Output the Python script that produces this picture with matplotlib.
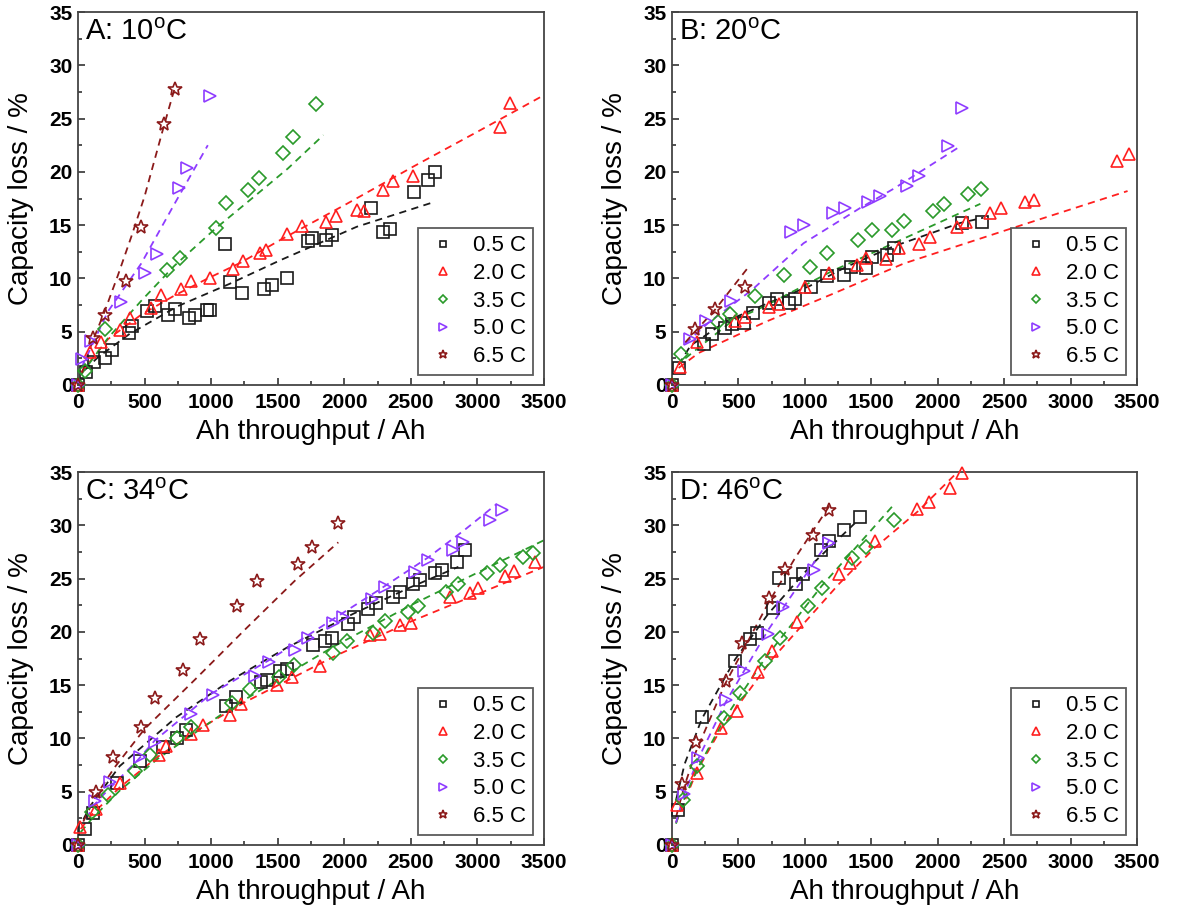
import matplotlib
matplotlib.use("Agg")
import matplotlib.pyplot as plt
from matplotlib.ticker import MultipleLocator

plt.rcParams['font.family'] = ['Liberation Sans', 'DejaVu Sans']
plt.rcParams['mathtext.default'] = 'regular'

rates = ['0.5 C', '2.0 C', '3.5 C', '5.0 C', '6.5 C']
panel_titles = ['A: 10$^{o}$C', 'B: 20$^{o}$C', 'C: 34$^{o}$C', 'D: 46$^{o}$C']

# ---- panel A, 10 C : measured points ----
a05_x = [0, 58, 120, 200, 255, 383, 408, 520, 575, 675, 725, 830, 880, 970, 995, 1105, 1140, 1233, 1400, 1455,
         1570, 1728, 1758, 1861, 1906, 2199, 2294, 2344, 2524, 2632, 2682]
a05_y = [0, 1.25, 2.15, 2.5, 3.25, 4.9, 5.5, 6.9, 7.4, 6.6, 7.1, 6.25, 6.6, 7.0, 7.0, 13.2, 9.65, 8.6, 9.05, 9.4,
         10.05, 13.5, 13.8, 13.6, 14.1, 16.6, 14.4, 14.6, 18.1, 19.2, 20.0]
a20_x = [0, 88, 170, 313, 388, 550, 625, 775, 850, 988, 1163, 1238, 1366, 1411, 1573, 1681, 1863, 1938, 2094,
         2149, 2294, 2369, 2519, 3171, 3246]
a20_y = [0, 3.1, 4.0, 5.2, 6.3, 7.25, 8.4, 9.0, 9.75, 10.0, 10.9, 11.6, 12.4, 12.7, 14.2, 14.9, 15.3, 15.9, 16.4,
         16.3, 18.3, 19.1, 19.6, 24.2, 26.5]
a35_x = [0, 50, 205, 670, 763, 1038, 1113, 1275, 1363, 1538, 1613, 1784]
a35_y = [0, 1.3, 5.3, 10.75, 11.9, 14.75, 17.1, 18.3, 19.4, 21.8, 23.25, 26.4]
a50_x = [0, 30, 100, 325, 505, 595, 758, 820, 988]
a50_y = [0, 2.4, 4.1, 7.8, 10.5, 12.25, 18.5, 20.4, 27.1]
a65_x = [0, 112, 200, 362, 475, 645, 725]
a65_y = [0, 4.4, 6.6, 9.8, 14.8, 24.5, 27.8]

# ---- panel A : model lines ----
a05_fx = [50, 150, 388, 750, 1140, 1518, 2094, 2682]
a05_fy = [1.4, 2.6, 4.8, 7.4, 9.5, 11.7, 14.85, 17.2]
a20_fx = [25, 225, 475, 725, 975, 1225, 1518, 2019, 2519, 3020, 3471]
a20_fy = [1.2, 4.3, 6.6, 8.4, 10.0, 11.5, 13.6, 17.0, 20.5, 23.9, 27.0]
a35_fx = [25, 225, 475, 725, 1025, 1325, 1575, 1843]
a35_fy = [1.0, 4.4, 7.9, 11.2, 14.6, 17.7, 20.3, 23.45]
a50_fx = [25, 225, 475, 725, 975]
a50_fy = [1.6, 6.9, 11.4, 17.0, 22.5]
a65_fx = [0, 100, 200, 300, 400, 500, 645, 725]
a65_fy = [0, 3.8, 6.9, 10.3, 13.9, 17.7, 24.3, 27.8]

# ---- panel B, 20 C : measured points ----
b05_x = [0, 50, 238, 301, 396, 452, 545, 607, 728, 791, 879, 929, 1047, 1168, 1293, 1349, 1457, 1507, 1616,
         1670, 2181, 2337]
b05_y = [0, 1.6, 3.84, 4.78, 5.34, 5.72, 5.78, 6.75, 7.74, 8.06, 7.74, 8.06, 9.15, 10.24, 10.34, 11.09, 11.0,
         12.02, 12.2, 12.9, 15.2, 15.3]
b20_x = [0, 58, 191, 477, 552, 728, 803, 1004, 1180, 1394, 1457, 1613, 1708, 1858, 1942, 2143, 2213, 2393, 2474,
         2655, 2725, 3353, 3441]
b20_y = [0, 1.65, 4.0, 6.03, 6.34, 7.34, 7.59, 9.21, 10.55, 11.27, 11.96, 11.8, 12.9, 13.2, 13.9, 14.8, 15.25,
         16.18, 16.6, 17.2, 17.4, 21.0, 21.7]
b35_x = [0, 70, 346, 440, 628, 841, 1042, 1163, 1402, 1502, 1658, 1745, 1967, 2050, 2231, 2324]
b35_y = [0, 2.9, 5.87, 6.65, 8.37, 10.3, 11.09, 12.4, 13.59, 14.53, 14.5, 15.4, 16.3, 17.0, 17.9, 18.4]
b50_x = [0, 133, 254, 447, 894, 992, 1214, 1301, 1477, 1565, 1766, 1858, 2080, 2185]
b50_y = [0, 4.3, 6.0, 7.9, 14.4, 15.0, 16.1, 16.6, 17.2, 17.7, 18.7, 19.6, 22.4, 26.0]
b65_x = [0, 175, 326, 552]
b65_y = [0, 5.25, 7.1, 9.15]

# ---- panel B : model lines ----
b05_fx = [50, 140, 410, 736, 1038, 1314, 1666, 2168, 2344]
b05_fy = [1.9, 3.7, 6.0, 7.75, 9.3, 11.1, 13.0, 15.2, 15.7]
b20_fx = [50, 200, 700, 1200, 1745, 2574, 3429]
b20_fy = [1.6, 3.0, 5.9, 8.5, 11.4, 14.77, 18.2]
b35_fx = [100, 200, 452, 703, 1206, 1457, 1720, 2321]
b35_fy = [2.5, 3.5, 6.0, 7.43, 10.7, 12.1, 13.6, 17.0]
b50_fx = [100, 280, 600, 990, 1415, 1666, 2170]
b50_fy = [3.9, 5.9, 8.9, 13.3, 16.6, 18.4, 22.4]
b65_fx = [100, 326, 565]
b65_fy = [4.0, 7.1, 10.9]

# ---- panel C, 34 C : measured points ----
c05_x = [0, 50, 113, 296, 464, 639, 744, 814, 1115, 1190, 1373, 1423, 1516, 1566, 1767, 1854, 1905, 2025, 2075,
         2175, 2238, 2368, 2418, 2519, 2569, 2682, 2732, 2844, 2907]
c05_y = [0, 1.5, 3.0, 5.8, 7.9, 9.2, 10.0, 10.8, 13.0, 13.9, 15.3, 15.5, 16.3, 16.5, 18.75, 19.1, 19.4, 20.7,
         21.4, 22.1, 22.7, 23.3, 23.7, 24.5, 24.9, 25.5, 25.8, 26.6, 27.7]
c20_x = [0, 13, 138, 313, 609, 664, 852, 940, 1140, 1228, 1496, 1604, 1817, 2193, 2268, 2419, 2501, 2794, 2945,
         3008, 3208, 3278, 3434]
c20_y = [0, 1.7, 3.4, 5.8, 8.4, 9.3, 10.4, 11.25, 12.2, 13.2, 15.0, 15.8, 16.8, 19.7, 19.8, 20.6, 20.8, 23.3,
         23.6, 24.1, 25.2, 25.7, 26.6]
c35_x = [0, 108, 226, 426, 539, 747, 852, 1153, 1291, 1509, 1624, 1917, 2018, 2213, 2306, 2481, 2556, 2764, 2857,
         3070, 3170, 3346, 3421]
c35_y = [0, 3.1, 4.7, 6.9, 8.4, 10.0, 11.1, 13.3, 14.6, 15.8, 16.9, 18.0, 19.1, 19.9, 21.0, 21.9, 22.4, 23.7,
         24.5, 25.5, 26.3, 27.0, 27.4]
c50_x = [0, 125, 238, 464, 576, 852, 1015, 1328, 1436, 1629, 1729, 1917, 1992, 2206, 2306, 2531, 2632, 2820,
         2895, 3095, 3183]
c50_y = [0, 4.1, 5.9, 8.3, 9.7, 12.3, 14.1, 15.9, 17.2, 18.3, 19.4, 20.8, 21.4, 23.1, 24.2, 25.6, 26.7, 27.7,
         28.4, 30.5, 31.4]
c65_x = [0, 133, 263, 471, 576, 789, 915, 1195, 1346, 1649, 1754, 1950]
c65_y = [0, 5.0, 8.3, 11.1, 13.75, 16.4, 19.3, 22.4, 24.8, 26.4, 28.0, 30.2]

# ---- panel C : model lines ----
c05_fx = [40, 100, 313, 739, 1140, 1566, 2068, 2500, 2857]
c05_fy = [2.4, 3.8, 7.4, 12.0, 15.4, 18.5, 21.7, 24.2, 26.1]
c20_fx = [20, 100, 313, 601, 940, 1253, 1942, 2506, 3500]
c20_fy = [1.5, 2.8, 5.4, 8.3, 11.1, 13.4, 17.8, 21.0, 26.1]
c35_fx = [20, 100, 313, 600, 1140, 1917, 2500, 3500]
c35_fy = [1.2, 2.4, 5.1, 8.1, 12.8, 18.6, 22.5, 28.6]
c50_fx = [60, 150, 451, 576, 1002, 1429, 1754, 2256, 2632, 2907, 3145]
c50_fy = [2.5, 4.2, 8.0, 9.8, 14.2, 17.3, 19.9, 23.9, 27.0, 29.6, 32.0]
c65_fx = [40, 133, 276, 501, 877, 1253, 1629, 1955]
c65_fy = [2.2, 4.6, 7.3, 10.9, 15.5, 20.2, 24.8, 28.4]

# ---- panel D, 46 C : measured points ----
d05_x = [0, 48, 223, 474, 587, 637, 762, 805, 930, 988, 1121, 1184, 1296, 1414]
d05_y = [0, 3.3, 12.0, 17.3, 19.3, 19.9, 22.2, 25.05, 24.5, 25.4, 27.7, 28.5, 29.6, 30.8]
d20_x = [0, 40, 185, 369, 486, 644, 750, 938, 1257, 1339, 1527, 1841, 1937, 2093, 2181]
d20_y = [0, 3.8, 6.75, 11.0, 12.6, 16.2, 18.2, 20.9, 25.4, 26.5, 28.5, 31.5, 32.2, 33.5, 34.9]
d35_x = [0, 85, 185, 394, 511, 700, 812, 1026, 1126, 1352, 1457, 1670]
d35_y = [0, 4.2, 7.4, 11.9, 14.3, 17.3, 19.4, 22.4, 24.1, 26.9, 28.0, 30.5]
d50_x = [0, 93, 198, 404, 544, 725, 837, 1068, 1184]
d50_y = [0, 4.8, 8.2, 13.6, 16.3, 19.8, 22.3, 25.8, 28.3]
d65_x = [0, 73, 180, 404, 529, 730, 850, 1063, 1184]
d65_y = [0, 5.7, 9.7, 15.4, 19.0, 23.2, 25.9, 29.1, 31.4]

# ---- panel D : model lines ----
d05_fx = [30, 95, 223, 474, 725, 1051, 1402]
d05_fy = [4.2, 7.6, 11.8, 17.4, 21.7, 26.3, 30.5]
d20_fx = [30, 185, 369, 750, 1257, 1527, 1850, 2150]
d20_fy = [2.1, 6.9, 10.9, 17.4, 24.5, 27.9, 31.3, 35.0]
d35_fx = [30, 85, 185, 394, 700, 1126, 1660]
d35_fy = [2.0, 4.1, 7.0, 11.8, 17.5, 24.3, 31.8]
d50_fx = [30, 93, 198, 404, 725, 1189]
d50_fy = [2.1, 4.8, 8.1, 13.4, 20.2, 28.7]
d65_fx = [30, 90, 180, 399, 725, 925, 1189]
d65_fy = [2.6, 5.4, 8.75, 15.1, 22.7, 26.9, 31.9]

colors = ['#1a1a1a', '#ff1f1f', '#2a9a2a', '#8f3cff', '#8b1a1a']
markers = ['s', '^', 'D', '>', '*']
msizes = [8, 9, 7, 9, 10.5]

panels = [
    ([(a05_x, a05_y), (a20_x, a20_y), (a35_x, a35_y), (a50_x, a50_y), (a65_x, a65_y)],
     [(a05_fx, a05_fy), (a20_fx, a20_fy), (a35_fx, a35_fy), (a50_fx, a50_fy), (a65_fx, a65_fy)]),
    ([(b05_x, b05_y), (b20_x, b20_y), (b35_x, b35_y), (b50_x, b50_y), (b65_x, b65_y)],
     [(b05_fx, b05_fy), (b20_fx, b20_fy), (b35_fx, b35_fy), (b50_fx, b50_fy), (b65_fx, b65_fy)]),
    ([(c05_x, c05_y), (c20_x, c20_y), (c35_x, c35_y), (c50_x, c50_y), (c65_x, c65_y)],
     [(c05_fx, c05_fy), (c20_fx, c20_fy), (c35_fx, c35_fy), (c50_fx, c50_fy), (c65_fx, c65_fy)]),
    ([(d05_x, d05_y), (d20_x, d20_y), (d35_x, d35_y), (d50_x, d50_y), (d65_x, d65_y)],
     [(d05_fx, d05_fy), (d20_fx, d20_fy), (d35_fx, d35_fy), (d50_fx, d50_fy), (d65_fx, d65_fy)]),
]

# axes boxes in pixels: left, top, right, bottom
boxes = [(78, 12, 544, 385), (672, 12, 1137, 385), (78, 472, 544, 845), (672, 472, 1137, 845)]
W, H = 1177., 910.


def draw_panel(ax, points, fits, title):
    for i in range(5):
        fx, fy = fits[i]
        ax.plot(fx, fy, color=colors[i], lw=1.3, dashes=(4, 3), zorder=2)
    for i in range(5):
        px, py = points[i]
        ax.plot(px, py, linestyle='none', marker=markers[i], ms=msizes[i], mfc='none',
                mec=colors[i], mew=1.2, label=rates[i], zorder=3, clip_on=False)
    ax.set_xlim(0, 3500)
    ax.set_ylim(0, 35)
    ax.xaxis.set_major_locator(MultipleLocator(500))
    ax.xaxis.set_minor_locator(MultipleLocator(250))
    ax.yaxis.set_major_locator(MultipleLocator(5))
    ax.yaxis.set_minor_locator(MultipleLocator(2.5))
    ax.tick_params(which='both', direction='in', top=False, right=False, color='#333333', width=1.2)
    ax.tick_params(which='major', length=5, labelsize=15)
    ax.tick_params(which='minor', length=3)
    ax.tick_params(axis='x', pad=6)
    ax.tick_params(axis='y', pad=4)
    for lab in ax.get_xticklabels() + ax.get_yticklabels():
        lab.set_fontweight('bold')
    for sp in ax.spines.values():
        sp.set_color('#444444')
        sp.set_linewidth(1.3)
    ax.set_xlabel('Ah throughput / Ah', fontsize=20)
    ax.set_ylabel('Capacity loss / %', fontsize=20)
    ax.xaxis.set_label_coords(0.5, -0.09)
    ax.yaxis.set_label_coords(-0.095, 0.5)
    ax.text(0.015, 0.985, title, transform=ax.transAxes, fontsize=21, va='top', ha='left')
    leg = ax.legend(loc='lower right', bbox_to_anchor=(0.977, 0.027), borderaxespad=0,
                    fontsize=16, markerscale=0.6, handlelength=1.5, handletextpad=0.6,
                    borderpad=0.35, labelspacing=0.3, fancybox=False, frameon=True)
    leg.get_frame().set_edgecolor('#333333')
    leg.get_frame().set_linewidth(1.3)


fig = plt.figure(figsize=(11.77, 9.10), dpi=100)
for k in range(4):
    l, t, r, b = boxes[k]
    ax = fig.add_axes([l / W, 1 - b / H, (r - l) / W, (b - t) / H])
    draw_panel(ax, panels[k][0], panels[k][1], panel_titles[k])

fig.savefig('out.png', dpi=100)
